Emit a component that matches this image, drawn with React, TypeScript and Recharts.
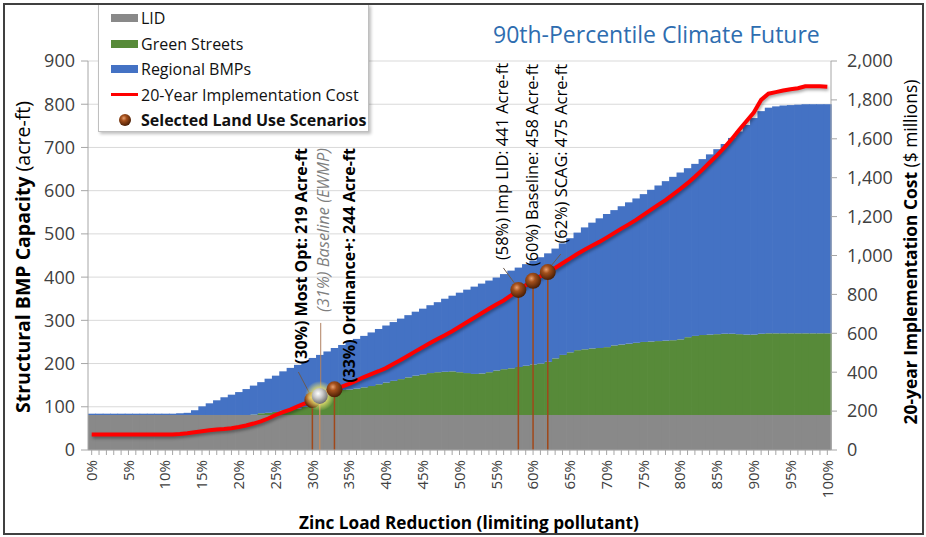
import React from 'react';
import { ComposedChart, Bar, Line, Scatter, XAxis, YAxis, CartesianGrid, ReferenceLine } from 'recharts';

// zinc load reduction, 0% .. 100% in 1% steps
const categories = Array.from({ length: 101 }, (_, i) => `${i}%`);

// acre-ft, stacked
const lid = [
  81, 81, 81, 81, 81, 81, 81, 81, 81, 81, 81, 81, 81, 81, 81, 81, 81, 81, 81, 81,
  81, 81, 81, 81, 81, 81, 81, 81, 81, 81, 81, 81, 81, 81, 81, 81, 81, 81, 81, 81,
  81, 81, 81, 81, 81, 81, 81, 81, 81, 81, 81, 81, 81, 81, 81, 81, 81, 81, 81, 81,
  81, 81, 81, 81, 81, 81, 81, 81, 81, 81, 81, 81, 81, 81, 81, 81, 81, 81, 81, 81,
  81, 81, 81, 81, 81, 81, 81, 81, 81, 81, 81, 81, 81, 81, 81, 81, 81, 81, 81, 81,
  81,
];
const greenStreets = [
  0, 0, 0, 0, 0, 0, 0, 0, 0, 0, 0, 0, 0, 0, 0, 0, 0, 0, 0, 0,
  0, 0, 1, 4, 5, 7, 11, 13, 15, 19, 23, 34, 44, 54, 58, 59, 61, 64, 67, 71,
  75, 79, 83, 87, 91, 94, 97, 99, 100, 101, 99, 97, 95, 96, 99, 103, 106, 108, 111, 114,
  117, 119, 123, 131, 139, 145, 150, 152, 154, 155, 157, 161, 163, 165, 167, 169, 170, 171, 172, 173,
  175, 180, 183, 185, 186, 187, 188, 188, 187, 186, 186, 188, 189, 189, 189, 189, 189, 189, 189, 189,
  189,
];
const regionalBmps = [
  3, 3, 3, 3, 3, 3, 3, 3, 3, 3, 3, 3, 4, 5, 11, 20, 27, 34, 41, 47,
  53, 60, 67, 72, 79, 84, 90, 96, 101, 104, 109, 105, 103, 101, 104, 110, 115, 119, 124, 128,
  132, 136, 140, 144, 148, 152, 157, 162, 169, 175, 184, 193, 202, 208, 212, 215, 220, 226, 230, 235,
  240, 246, 251, 254, 258, 264, 272, 282, 291, 300, 308, 313, 320, 327, 334, 342, 351, 360, 369, 378,
  386, 391, 398, 407, 417, 428, 439, 453, 469, 485, 501, 515, 522, 525, 527, 528, 529, 530, 530, 530,
  530,
];

// $ millions
const implementationCost = [
  80, 80, 80, 80, 80, 80, 80, 80, 80, 80, 80, 80, 82, 86, 91, 96, 101, 105, 108, 112,
  118, 126, 136, 147, 162, 180, 195, 208, 224, 240, 257, 278, 296, 312, 326, 340, 357, 375, 390, 405,
  421, 442, 463, 485, 507, 528, 550, 571, 590, 611, 634, 657, 680, 703, 726, 748, 769, 795, 823, 847,
  870, 893, 915, 936, 960, 984, 1008, 1030, 1050, 1070, 1092, 1115, 1138, 1160, 1183, 1209, 1235, 1260, 1285, 1313,
  1342, 1372, 1405, 1440, 1478, 1515, 1555, 1598, 1645, 1690, 1735, 1800, 1832, 1840, 1848, 1855, 1860, 1870, 1870, 1870,
  1868,
];

const scenarioPct = ['30%', '31%', '33%', '58%', '60%', '62%'];
const scenarioCost = [257, 278, 312, 823, 870, 915];
const scenarioLabels = [
  '(30%) Most Opt: 219 Acre-ft',
  '(31%) Baseline (EWMP)',
  '(33%) Ordinance+: 244 Acre-ft',
  '(58%) Imp LID: 441 Acre-ft',
  '(60%) Baseline: 458 Acre-ft',
  '(62%) SCAG: 475 Acre-ft',
];

const leftTicks = [0, 100, 200, 300, 400, 500, 600, 700, 800, 900];
const rightTicks = [0, 200, 400, 600, 800, 1000, 1200, 1400, 1600, 1800, 2000];

const data = categories.map((pct, i) => ({
  pct,
  lid: lid[i],
  green: greenStreets[i],
  regional: regionalBmps[i],
  cost: implementationCost[i],
}));

const scenarios = scenarioPct.map((pct, i) => ({ pct, cost: scenarioCost[i], label: scenarioLabels[i] }));

// label placement for each scenario (px, relative to the ball)
const labelLayout: Record<string, any> = {
  '30%': { dx: -11, top: 148, bold: true, leader: [-3, -7, -14, -28] },
  '31%': { dx: 4, top: 148, italic: true, leader: [1, -8, 1, -73] },
  '33%': { dx: 15, top: 148, bold: true },
  '58%': { dx: -16, top: 63, leader: [-4, -7, -15, -22] },
  '60%': { dx: -1, top: 64 },
  '62%': { dx: 13, top: 64, leader: [4, -7, 13, -18] },
};

const FONT = '"Open Sans", Lato, sans-serif';
const GRAY = '#898989';
const GREEN = '#578A39';
const BLUE = '#4472C4';
const AXIS = '#A6A6A6';

// bars are widened a hair so neighbouring columns close up without seams
const FlushBar = (props: any) => {
  const { x, y, width, height, fill } = props;
  if (!height || height <= 0) return <g />;
  return <rect x={x} y={y} width={width + 0.7} height={height} fill={fill} />;
};

const XTick = (props: any) => {
  const { x, y, payload } = props;
  if (parseInt(payload.value, 10) % 5 !== 0) return <g />;
  return (
    <text x={x} y={y} transform={`rotate(-90 ${x} ${y})`} textAnchor="end" dy="0.35em"
      fontSize={15} fill="#404040" fontFamily={FONT}>
      {payload.value}
    </text>
  );
};

const ScenarioShape = (props: any) => {
  const { cx, cy, payload } = props;
  if (cx == null || cy == null) return <g />;
  const lay = labelLayout[payload.pct];
  const tx = cx + lay.dx;
  const silver = lay.italic;
  return (
    <g>
      {lay.leader && (
        <line x1={cx + lay.leader[0]} y1={cy + lay.leader[1]} x2={cx + lay.leader[2]} y2={cy + lay.leader[3]}
          stroke={silver ? '#B08060' : '#6B5A50'} strokeWidth={1} />
      )}
      {silver && <circle cx={cx} cy={cy} r={15} fill="url(#glowBall)" />}
      <circle cx={cx} cy={cy} r={8} fill={silver ? 'url(#silverBall)' : 'url(#brownBall)'} />
      <text x={tx} y={lay.top} transform={`rotate(-90 ${tx} ${lay.top})`} textAnchor="end" dy="0.35em"
        fontSize={lay.bold ? 16 : 16.4} fontFamily={FONT}
        fontWeight={lay.bold ? 700 : 400}
        fontStyle={silver ? 'italic' : 'normal'}
        fill={silver ? '#7F7F7F' : '#000'}>
        {payload.label}
      </text>
    </g>
  );
};

const legendItems = [
  { name: 'LID', kind: 'box', color: GRAY },
  { name: 'Green Streets', kind: 'box', color: GREEN },
  { name: 'Regional BMPs', kind: 'box', color: BLUE },
  { name: '20-Year Implementation Cost', kind: 'line', color: '#FF0000' },
  { name: 'Selected Land Use Scenarios', kind: 'ball', color: '#7A3A10' },
];

export default function App() {
  return (
    <div style={{ position: 'relative', width: 926, height: 537, background: '#fff', fontFamily: FONT }}>
      <style>{'body{margin:0}'}</style>
      <svg width={0} height={0} style={{ position: 'absolute' }}>
        <defs>
          <radialGradient id="brownBall" cx="40%" cy="35%" r="65%">
            <stop offset="0%" stopColor="#E8A070" />
            <stop offset="35%" stopColor="#A4501C" />
            <stop offset="100%" stopColor="#4A1E05" />
          </radialGradient>
          <radialGradient id="silverBall" cx="40%" cy="35%" r="65%">
            <stop offset="0%" stopColor="#FFFFFF" />
            <stop offset="45%" stopColor="#C8C8C8" />
            <stop offset="100%" stopColor="#707070" />
          </radialGradient>
          <radialGradient id="glowBall" cx="50%" cy="50%" r="50%">
            <stop offset="50%" stopColor="#E6E070" stopOpacity={0.9} />
            <stop offset="100%" stopColor="#E6E070" stopOpacity={0} />
          </radialGradient>
        </defs>
      </svg>

      <ComposedChart width={926} height={537} data={data}
        margin={{ top: 61, right: 0, bottom: 0, left: 0 }}
        barCategoryGap={0} barGap={0}>
        <CartesianGrid vertical={false} yAxisId="left" stroke="#D9D9D9" />
        <XAxis dataKey="pct" interval={0} height={87} tickSize={5} tickMargin={5}
          allowDuplicatedCategory={false}
          axisLine={{ stroke: AXIS }} tickLine={{ stroke: AXIS }} tick={<XTick />} />
        <YAxis yAxisId="left" domain={[0, 900]} ticks={leftTicks} width={88} tickSize={7} tickMargin={6}
          axisLine={{ stroke: AXIS }} tickLine={{ stroke: AXIS }}
          tick={{ fontSize: 18, fill: '#404040', fontFamily: FONT }} />
        <YAxis yAxisId="right" orientation="right" domain={[0, 2000]} ticks={rightTicks} width={95}
          tickSize={6} tickMargin={10}
          axisLine={{ stroke: AXIS }} tickLine={{ stroke: AXIS }}
          tickFormatter={(v: number) => v.toLocaleString('en-US')}
          tick={{ fontSize: 18, fill: '#404040', fontFamily: FONT }} />

        <Bar yAxisId="left" dataKey="lid" name="LID" stackId="cap" fill={GRAY} barSize={7.35} shape={<FlushBar />} isAnimationActive={false} />
        <Bar yAxisId="left" dataKey="green" name="Green Streets" stackId="cap" fill={GREEN} barSize={7.35} shape={<FlushBar />} isAnimationActive={false} />
        <Bar yAxisId="left" dataKey="regional" name="Regional BMPs" stackId="cap" fill={BLUE} barSize={7.35} shape={<FlushBar />} isAnimationActive={false} />

        {scenarios.map((s) => (
          <ReferenceLine key={s.pct} yAxisId="right"
            segment={[{ x: s.pct, y: 0 }, { x: s.pct, y: s.cost }]}
            stroke={s.pct === '31%' ? '#C08A60' : '#A0481A'} strokeWidth={1.5} />
        ))}

        <Line yAxisId="right" type="linear" dataKey="cost" name="20-Year Implementation Cost"
          stroke="#FF0000" strokeWidth={4} dot={false} activeDot={false}
          style={{ filter: 'drop-shadow(1px 2px 1.5px rgba(0,0,0,0.35))' }}
          isAnimationActive={false} />

        <Scatter yAxisId="right" data={scenarios} dataKey="cost" name="Selected Land Use Scenarios"
          shape={<ScenarioShape />} isAnimationActive={false} />
      </ComposedChart>

      {/* chart title */}
      <div style={{ position: 'absolute', left: 493, top: 18, fontSize: 23, color: '#2E6DB0', whiteSpace: 'nowrap' }}>
        90th-Percentile Climate Future
      </div>

      {/* legend */}
      <div style={{
        position: 'absolute', left: 98, top: 4, width: 271, height: 128, background: '#fff',
        border: '1px solid #BFBFBF', boxShadow: '2px 2px 3px rgba(0,0,0,0.25)', boxSizing: 'border-box',
      }}>
        {legendItems.map((it, i) => (
          <div key={it.name} style={{ position: 'absolute', left: 12, top: 1 + i * 25.5, height: 24, display: 'flex', alignItems: 'center', whiteSpace: 'nowrap' }}>
            <div style={{ width: 27, display: 'flex', justifyContent: 'center', alignItems: 'center' }}>
              {it.kind === 'box' && <div style={{ width: 27, height: 8, background: it.color }} />}
              {it.kind === 'line' && <div style={{ width: 27, height: 3, background: it.color }} />}
              {it.kind === 'ball' && <svg width={14} height={14}><circle cx={7} cy={7} r={6} fill="url(#brownBall)" /></svg>}
            </div>
            <span style={{ marginLeft: 3, fontSize: 16, color: '#111', fontWeight: it.kind === 'ball' ? 700 : 400 }}>{it.name}</span>
          </div>
        ))}
      </div>

      {/* axis titles */}
      <div style={{
        position: 'absolute', left: 22, top: 257, transform: 'translate(-50%, -50%) rotate(-90deg)',
        whiteSpace: 'nowrap', fontSize: 19.5, color: '#000',
      }}>
        <b>Structural BMP Capacity</b> (acre-ft)
      </div>
      <div style={{
        position: 'absolute', left: 910, top: 252, transform: 'translate(-50%, -50%) rotate(-90deg)',
        whiteSpace: 'nowrap', fontSize: 17.4, color: '#000',
      }}>
        <b>20-year Implementation Cost</b> ($ millions)
      </div>
      <div style={{
        position: 'absolute', left: 469, top: 522, transform: 'translate(-50%, -50%)',
        whiteSpace: 'nowrap', fontSize: 17.2, fontWeight: 700, color: '#000',
      }}>
        Zinc Load Reduction (limiting pollutant)
      </div>

      {/* outer frame */}
      <div style={{
        position: 'absolute', left: 3, top: 3, width: 921, height: 532, border: '2px solid #404040',
        boxSizing: 'border-box', pointerEvents: 'none',
      }} />
    </div>
  );
}
